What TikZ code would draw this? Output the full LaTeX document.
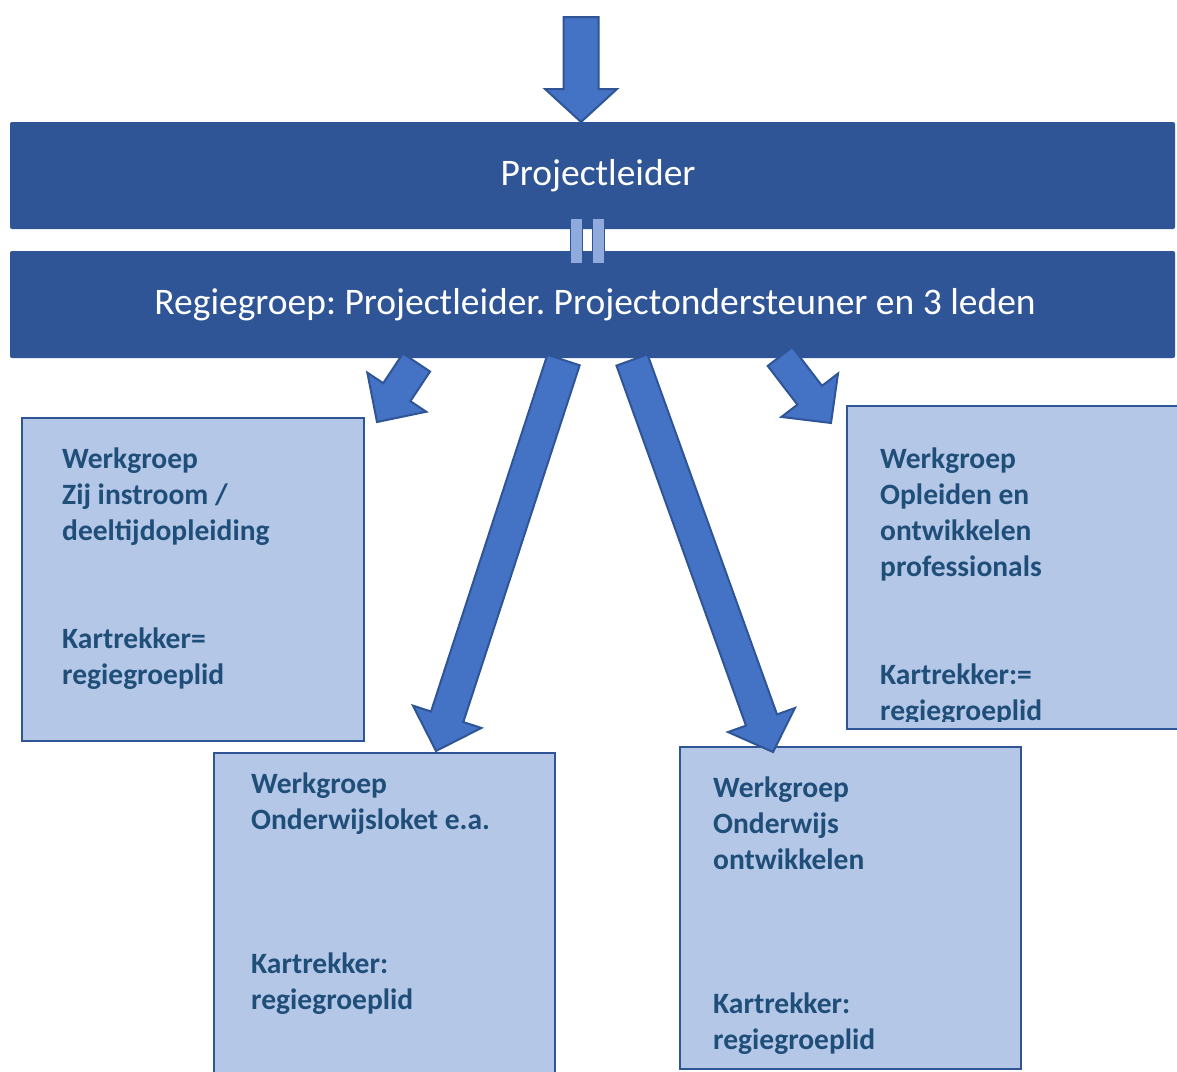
\documentclass[tikz,border=0pt]{standalone}
\usepackage{fontspec}
\setmainfont{Carlito}
\usetikzlibrary{calc}
\frenchspacing
\definecolor{bardark}{HTML}{2F5597}
\definecolor{arrowfill}{HTML}{4472C4}
\definecolor{boxfill}{HTML}{B4C7E7}
\definecolor{txtblue}{HTML}{1F4E79}
\definecolor{eqfill}{HTML}{8FAADC}
% #1 start, #2 tip, #3 shaft half width, #4 head half width, #5 head length
\newcommand\blockarrow[5]{%
  \coordinate (ba-h) at ($(#2)!#5!(#1)$);
  \draw[blockarrowstyle] ($(#1)!#3!90:(#2)$) -- ($(ba-h)!#3!90:(#2)$) -- ($(ba-h)!#4!90:(#2)$)
    -- (#2) -- ($(ba-h)!#4!-90:(#2)$) -- ($(ba-h)!#3!-90:(#2)$) -- ($(#1)!#3!-90:(#2)$) -- cycle;}
\tikzset{
  barbox/.style={draw=none, fill=bardark, rounded corners=2pt, minimum width=1165pt, minimum height=107pt,
    inner sep=0pt, text=white, font=\fontsize{37.5}{45}\selectfont\frenchspacing},
  wgbox/.style={draw=bardark, line width=2.5pt, fill=boxfill, inner sep=0pt},
  wgtext/.style={anchor=north west, inner sep=0pt, align=left, text=txtblue,
    font=\fontsize{29.5}{36}\selectfont\bfseries},
  blockarrowstyle/.style={fill=arrowfill, draw=bardark, line width=2pt, line join=miter},
  eqbar/.style={fill=eqfill, draw=bardark, line width=1pt}
}
\begin{document}
\begin{tikzpicture}[x=1pt,y=-1pt]
\clip (0,0) rectangle (1177,1071);
\fill[white] (0,0) rectangle (1177,1071);

% work group boxes
\node[wgbox, minimum width=342pt, minimum height=323pt] (wg1) at (193,579.5) {};
\node[wgbox, minimum width=341pt, minimum height=337pt] (wg2) at (384.5,921.5) {};
\node[wgbox, minimum width=341pt, minimum height=322pt] (wg3) at (850.5,908) {};
\node[wgbox, minimum width=343pt, minimum height=323pt] (wg4) at (1018.5,567.5) {};

\node[wgtext] (t1) at (62,443) {\rule{0pt}{25pt}Werkgroep\\Zij instroom /\\deeltijdopleiding\\[72pt]Kartrekker=\\regiegroeplid};
\node[wgtext] (t2) at (251,768) {\rule{0pt}{25pt}Werkgroep\\Onderwijsloket e.a.\\[108pt]Kartrekker:\\regiegroeplid};
\node[wgtext] (t3) at (713,772) {\rule{0pt}{25pt}Werkgroep\\Onderwijs\\ontwikkelen\\[108pt]Kartrekker:\\regiegroeplid};
\begin{scope}
\clip (847,406) rectangle (1177,721);
\node[wgtext] (t4) at (880,443) {\rule{0pt}{25pt}Werkgroep\\Opleiden en\\ontwikkelen\\professionals\\[72pt]Kartrekker:=\\regiegroeplid};
\end{scope}

% bars
\node[barbox] (pl) at (592.5,175.5) {\hspace*{11pt}Projectleider};
\node[barbox] (rg) at (592.5,304.5) {\hspace*{5pt}Regiegroep: Projectleider. Projectondersteuner en 3 leden};

% equals link
\draw[eqbar] (570,218) rectangle (582.5,263);
\draw[eqbar] (592,218) rectangle (604.5,263);

% arrow anchor coordinates
\coordinate (inS) at (581,17);
\coordinate (inT) at (581,122);
\coordinate (a1S) at (416.5,362.5);
\coordinate (a1T) at (377,422);
\coordinate (a2S) at (563.5,360);
\coordinate (a2T) at (436,751);
\coordinate (a3S) at (632,360);
\coordinate (a3T) at (773,752);
\coordinate (a4S) at (780,356.5);
\coordinate (a4T) at (831,423);

\blockarrow{inS}{inT}{17.5pt}{36pt}{33pt}
\blockarrow{a1S}{a1T}{16.3pt}{35.4pt}{35.8pt}
\blockarrow{a2S}{a2T}{17pt}{36pt}{36pt}
\blockarrow{a3S}{a3T}{16.5pt}{35.6pt}{34pt}
\blockarrow{a4S}{a4T}{15.5pt}{35.7pt}{35pt}
\end{tikzpicture}
\end{document}
